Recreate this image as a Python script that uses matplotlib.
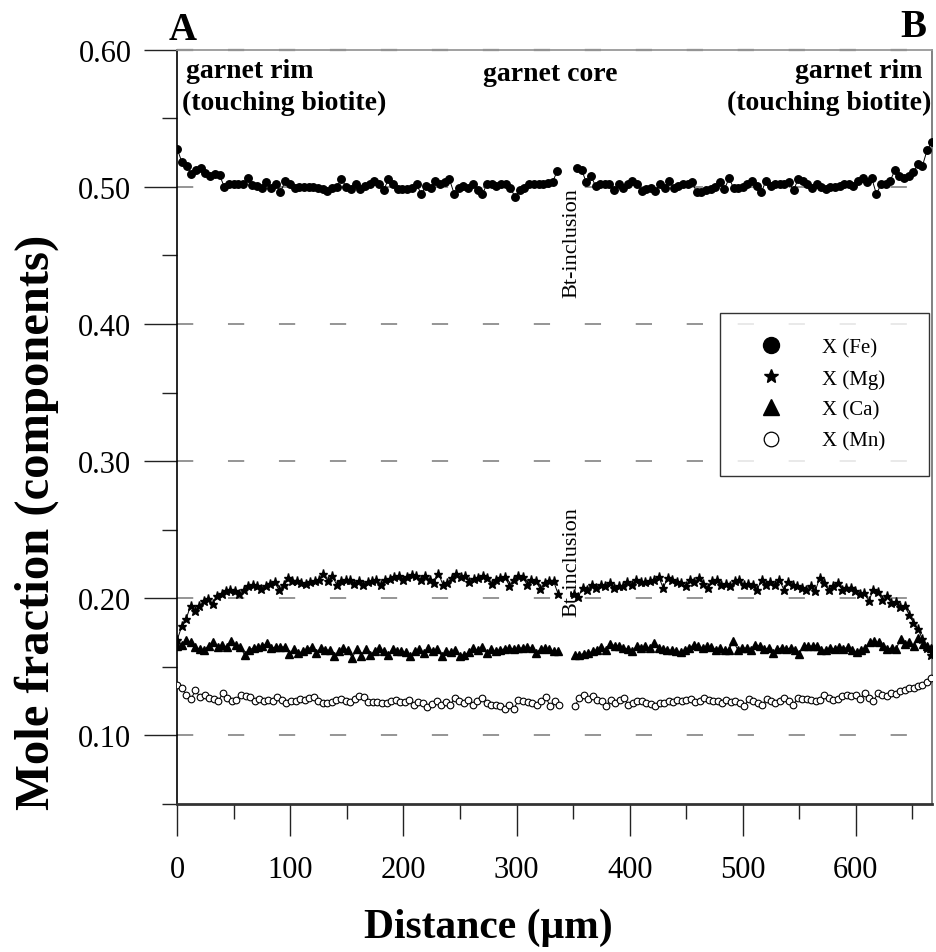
import numpy as np
import matplotlib
matplotlib.use("Agg")
import matplotlib.pyplot as plt
from matplotlib.lines import Line2D

plt.rcParams["font.family"] = ["Liberation Serif", "DejaVu Serif"]
plt.rcParams["lines.scale_dashes"] = False

# garnet traverse A -> B, two segments split by the Bt-inclusion
fe_left = [0.5276, 0.5178, 0.5154, 0.5093, 0.5122, 0.5134, 0.5098, 0.5080, 0.5093, 0.5088,
           0.5000, 0.5020, 0.5020, 0.5024, 0.5020, 0.5061, 0.5015, 0.5007, 0.4990, 0.5032,
           0.4995, 0.5020, 0.4959, 0.5044, 0.5020, 0.4995, 0.5000, 0.5000, 0.5000, 0.5000,
           0.4995, 0.4983, 0.4971, 0.4990, 0.5000, 0.5056, 0.5000, 0.4983, 0.5024, 0.4983,
           0.5007, 0.5020, 0.5044, 0.5020, 0.4976, 0.5056, 0.5024, 0.4983, 0.4983, 0.4983,
           0.4990, 0.5020, 0.4946, 0.5007, 0.4995, 0.5044, 0.5020, 0.5032, 0.5056, 0.4951,
           0.4995, 0.5007, 0.4995, 0.5020, 0.4976, 0.4946, 0.5020, 0.5020, 0.5007, 0.5024,
           0.5020, 0.4990, 0.4927, 0.4976, 0.4995, 0.5020, 0.5020, 0.5024, 0.5024, 0.5030,
           0.5036, 0.5117]
fe_right = [0.5141, 0.5122, 0.5032, 0.5080, 0.5007, 0.5020, 0.5024, 0.5020, 0.4976, 0.5024,
            0.4995, 0.5020, 0.5044, 0.5020, 0.4971, 0.4983, 0.4995, 0.4971, 0.5020, 0.4995,
            0.5044, 0.4990, 0.5007, 0.5020, 0.5024, 0.5032, 0.4959, 0.4966, 0.4976, 0.4983,
            0.5000, 0.5032, 0.4983, 0.5063, 0.4990, 0.4995, 0.5000, 0.5020, 0.5044, 0.5007,
            0.4959, 0.5044, 0.5007, 0.5020, 0.5024, 0.5020, 0.5032, 0.4976, 0.5056, 0.5044,
            0.5020, 0.4990, 0.5020, 0.5000, 0.4983, 0.5000, 0.5000, 0.5007, 0.5020, 0.5024,
            0.5007, 0.5044, 0.5068, 0.5032, 0.5061, 0.4946, 0.5020, 0.5024, 0.5044, 0.5122,
            0.5080, 0.5068, 0.5080, 0.5105, 0.5166, 0.5154, 0.5268, 0.5324]

mg_left = [0.1698, 0.1796, 0.1849, 0.1946, 0.1905, 0.1942, 0.1978, 0.1995, 0.1961, 0.2015,
           0.2034, 0.2051, 0.2063, 0.2051, 0.2034, 0.2058, 0.2092, 0.2100, 0.2088, 0.2068,
           0.2088, 0.2107, 0.2117, 0.2058, 0.2100, 0.2148, 0.2124, 0.2124, 0.2112, 0.2107,
           0.2117, 0.2124, 0.2131, 0.2180, 0.2124, 0.2161, 0.2100, 0.2124, 0.2136, 0.2131,
           0.2107, 0.2124, 0.2100, 0.2117, 0.2124, 0.2136, 0.2100, 0.2131, 0.2141, 0.2156,
           0.2161, 0.2131, 0.2156, 0.2173, 0.2165, 0.2136, 0.2165, 0.2131, 0.2112, 0.2180,
           0.2100, 0.2112, 0.2148, 0.2180, 0.2156, 0.2161, 0.2117, 0.2141, 0.2148, 0.2161,
           0.2148, 0.2107, 0.2131, 0.2148, 0.2156, 0.2092, 0.2131, 0.2165, 0.2156, 0.2100,
           0.2136, 0.2124, 0.2068, 0.2112, 0.2124, 0.2124, 0.2034]
mg_right = [0.2034, 0.2010, 0.2075, 0.2063, 0.2100, 0.2075, 0.2100, 0.2088, 0.2112, 0.2075,
            0.2088, 0.2088, 0.2117, 0.2100, 0.2131, 0.2117, 0.2117, 0.2124, 0.2136, 0.2156,
            0.2075, 0.2148, 0.2136, 0.2117, 0.2112, 0.2088, 0.2131, 0.2117, 0.2148, 0.2107,
            0.2075, 0.2124, 0.2131, 0.2100, 0.2107, 0.2088, 0.2124, 0.2131, 0.2100, 0.2107,
            0.2100, 0.2063, 0.2131, 0.2100, 0.2117, 0.2100, 0.2131, 0.2063, 0.2117, 0.2100,
            0.2088, 0.2075, 0.2063, 0.2088, 0.2051, 0.2148, 0.2112, 0.2058, 0.2088, 0.2112,
            0.2063, 0.2075, 0.2075, 0.2051, 0.2034, 0.2039, 0.1978, 0.2063, 0.2044, 0.1990,
            0.2015, 0.1966, 0.1971, 0.1937, 0.1946, 0.1881, 0.1820, 0.1776, 0.1703, 0.1637,
            0.1589]

ca_left = [0.1655, 0.1662, 0.1698, 0.1679, 0.1645, 0.1630, 0.1625, 0.1655, 0.1679, 0.1645,
           0.1662, 0.1645, 0.1686, 0.1662, 0.1645, 0.1589, 0.1625, 0.1637, 0.1645, 0.1650,
           0.1674, 0.1637, 0.1645, 0.1645, 0.1645, 0.1596, 0.1630, 0.1601, 0.1613, 0.1630,
           0.1645, 0.1601, 0.1637, 0.1625, 0.1620, 0.1577, 0.1613, 0.1637, 0.1625, 0.1564,
           0.1630, 0.1582, 0.1630, 0.1589, 0.1613, 0.1637, 0.1613, 0.1589, 0.1630, 0.1613,
           0.1613, 0.1606, 0.1577, 0.1613, 0.1630, 0.1601, 0.1637, 0.1613, 0.1630, 0.1577,
           0.1613, 0.1606, 0.1625, 0.1582, 0.1589, 0.1606, 0.1637, 0.1620, 0.1645, 0.1601,
           0.1630, 0.1613, 0.1625, 0.1630, 0.1637, 0.1630, 0.1637, 0.1637, 0.1645, 0.1637,
           0.1601, 0.1630, 0.1637, 0.1630, 0.1613, 0.1613]
ca_right = [0.1589, 0.1589, 0.1596, 0.1601, 0.1613, 0.1625, 0.1645, 0.1620, 0.1669, 0.1655,
            0.1655, 0.1637, 0.1630, 0.1613, 0.1650, 0.1637, 0.1650, 0.1637, 0.1674, 0.1637,
            0.1630, 0.1625, 0.1620, 0.1613, 0.1606, 0.1620, 0.1637, 0.1662, 0.1655, 0.1637,
            0.1650, 0.1645, 0.1625, 0.1637, 0.1620, 0.1625, 0.1686, 0.1625, 0.1637, 0.1637,
            0.1625, 0.1662, 0.1650, 0.1630, 0.1637, 0.1601, 0.1630, 0.1637, 0.1630, 0.1637,
            0.1625, 0.1596, 0.1655, 0.1655, 0.1650, 0.1655, 0.1625, 0.1620, 0.1637, 0.1630,
            0.1645, 0.1630, 0.1645, 0.1625, 0.1606, 0.1625, 0.1637, 0.1679, 0.1686, 0.1679,
            0.1655, 0.1630, 0.1637, 0.1630, 0.1703, 0.1669, 0.1679, 0.1655, 0.1710, 0.1669,
            0.1655, 0.1637]

mn_left = [0.1370, 0.1345, 0.1297, 0.1265, 0.1328, 0.1280, 0.1297, 0.1272, 0.1265, 0.1248,
           0.1309, 0.1272, 0.1248, 0.1260, 0.1297, 0.1290, 0.1280, 0.1248, 0.1265, 0.1248,
           0.1260, 0.1248, 0.1280, 0.1260, 0.1236, 0.1248, 0.1248, 0.1265, 0.1260, 0.1272,
           0.1280, 0.1248, 0.1236, 0.1236, 0.1241, 0.1260, 0.1265, 0.1248, 0.1241, 0.1265,
           0.1285, 0.1280, 0.1241, 0.1241, 0.1241, 0.1236, 0.1236, 0.1248, 0.1260, 0.1241,
           0.1241, 0.1260, 0.1224, 0.1241, 0.1236, 0.1207, 0.1231, 0.1248, 0.1224, 0.1241,
           0.1224, 0.1272, 0.1248, 0.1236, 0.1260, 0.1224, 0.1248, 0.1272, 0.1236, 0.1224,
           0.1224, 0.1212, 0.1192, 0.1224, 0.1192, 0.1260, 0.1248, 0.1241, 0.1236, 0.1224,
           0.1248, 0.1280, 0.1212, 0.1248, 0.1224]
mn_right = [0.1217, 0.1272, 0.1297, 0.1265, 0.1285, 0.1260, 0.1248, 0.1217, 0.1260, 0.1236,
            0.1260, 0.1272, 0.1224, 0.1236, 0.1248, 0.1248, 0.1236, 0.1231, 0.1212, 0.1236,
            0.1236, 0.1248, 0.1241, 0.1260, 0.1248, 0.1260, 0.1265, 0.1241, 0.1248, 0.1272,
            0.1260, 0.1248, 0.1248, 0.1236, 0.1260, 0.1241, 0.1248, 0.1236, 0.1212, 0.1265,
            0.1248, 0.1236, 0.1224, 0.1265, 0.1248, 0.1236, 0.1248, 0.1272, 0.1248, 0.1224,
            0.1272, 0.1265, 0.1265, 0.1260, 0.1248, 0.1260, 0.1297, 0.1272, 0.1260, 0.1265,
            0.1290, 0.1297, 0.1285, 0.1297, 0.1265, 0.1309, 0.1272, 0.1248, 0.1309, 0.1297,
            0.1290, 0.1309, 0.1304, 0.1321, 0.1333, 0.1345, 0.1345, 0.1358, 0.1370, 0.1387,
            0.1419]

# distance covered by each segment (um)
fe_span = [(0, 336), (353.5, 667)]
mg_span = [(0, 336.6), (350.6, 666.7)]
ca_span = [(0, 337), (351.6, 666.7)]
mn_span = [(0, 337.8), (351.6, 666.7)]

fig = plt.figure(figsize=(9.36, 9.53), dpi=100)
ax = fig.add_axes([0.1894, 0.1553, 0.806, 0.7915])

# dashed grey guide lines
for yv in [0.1, 0.2, 0.3, 0.4, 0.5]:
    ax.axhline(yv, color="#8c8c8c", lw=1.3, dashes=(11.7, 25), zorder=1)
ax.axhline(0.6, color="#6e6e6e", lw=1.6, dashes=(11.7, 25), zorder=1, clip_on=False)

series = [
    (fe_left, fe_right, fe_span, dict(marker="o", ms=5.4, mfc="k")),
    (mg_left, mg_right, mg_span, dict(marker="*", ms=6.5, mfc="k")),
    (ca_left, ca_right, ca_span, dict(marker="^", ms=5.2, mfc="k")),
    (mn_left, mn_right, mn_span, dict(marker="o", ms=4.8, mfc="white", mew=0.8)),
]
for left, right, span, st in series:
    for vals, (a, b) in zip([left, right], span):
        x = np.linspace(a, b, len(vals))
        ax.plot(x, vals, color="k", mec="k", lw=0.7, zorder=3, **st)

ax.set_xlim(0, 667)
ax.set_ylim(0.05, 0.60)
ax.set_xticks(np.arange(0, 601, 100))
ax.set_xticks(np.arange(50, 667, 100), minor=True)
ax.set_yticks([0.10, 0.20, 0.30, 0.40, 0.50, 0.60])
ax.set_yticks([0.05, 0.15, 0.25, 0.35, 0.45, 0.55], minor=True)
ax.set_yticklabels(["0.10", "0.20", "0.30", "0.40", "0.50", "0.60"])
ax.tick_params(axis="both", which="major", direction="out", width=1, labelsize=22, color="#222222")
ax.tick_params(axis="x", which="major", length=23, pad=14)
ax.tick_params(axis="y", which="major", length=24, pad=9)
ax.tick_params(axis="both", which="minor", direction="out", length=11, width=1, color="#222222")

ax.spines["left"].set_linewidth(1.2)
ax.spines["bottom"].set_linewidth(2)
ax.spines["bottom"].set_color("#333333")
ax.spines["right"].set_color("#777777")
ax.spines["right"].set_linewidth(1.3)
ax.spines["top"].set_color("#999999")
ax.spines["top"].set_linewidth(1.3)

ax.text(0.413, -0.163, "Distance (μm)", transform=ax.transAxes, ha="center", va="center",
        fontsize=30, fontweight="bold")
ax.text(-0.187, 0.375, "Mole fraction (components)", transform=ax.transAxes, rotation=90,
        ha="center", va="center", fontsize=35, fontweight="bold")

# annotations
ax.text(4.6, 0.6078, "A", ha="center", va="baseline", fontsize=28, fontweight="bold", clip_on=False)
ax.text(650.6, 0.610, "B", ha="center", va="baseline", fontsize=28, fontweight="bold", clip_on=False)
ax.text(7.7, 0.5801, "garnet rim", ha="left", va="baseline", fontsize=20, fontweight="bold")
ax.text(4.2, 0.5567, "(touching biotite)", ha="left", va="baseline", fontsize=20, fontweight="bold")
ax.text(270, 0.5779, "garnet core", ha="left", va="baseline", fontsize=20, fontweight="bold")
ax.text(659, 0.5801, "garnet rim", ha="right", va="baseline", fontsize=20, fontweight="bold")
ax.text(667, 0.5567, "(touching biotite)", ha="right", va="baseline", fontsize=20, fontweight="bold")
ax.text(349, 0.46, "Bt-inclusion", rotation=90, ha="center", va="center", fontsize=16)
ax.text(349, 0.2275, "Bt-inclusion", rotation=90, ha="center", va="center", fontsize=16)

handles = [
    Line2D([], [], ls="none", marker="o", ms=11.5, mfc="k", mec="k"),
    Line2D([], [], ls="none", marker="*", ms=10, mfc="k", mec="k"),
    Line2D([], [], ls="none", marker="^", ms=12, mfc="k", mec="k"),
    Line2D([], [], ls="none", marker="o", ms=10.5, mfc="white", mec="k", mew=0.9),
]
leg = ax.legend(handles, ["X (Fe)", "X (Mg)", "X (Ca)", "X (Mn)"], loc="upper left",
                bbox_to_anchor=(0.7194, 0.651, 0.277, 0.0), mode="expand",
                fontsize=15, frameon=True, fancybox=False, edgecolor="k",
                borderpad=1.2, labelspacing=0.55, handlelength=2.5, handletextpad=1.2,
                borderaxespad=0)
leg.get_frame().set_linewidth(1.0)

fig.savefig("out.png", dpi=100)
